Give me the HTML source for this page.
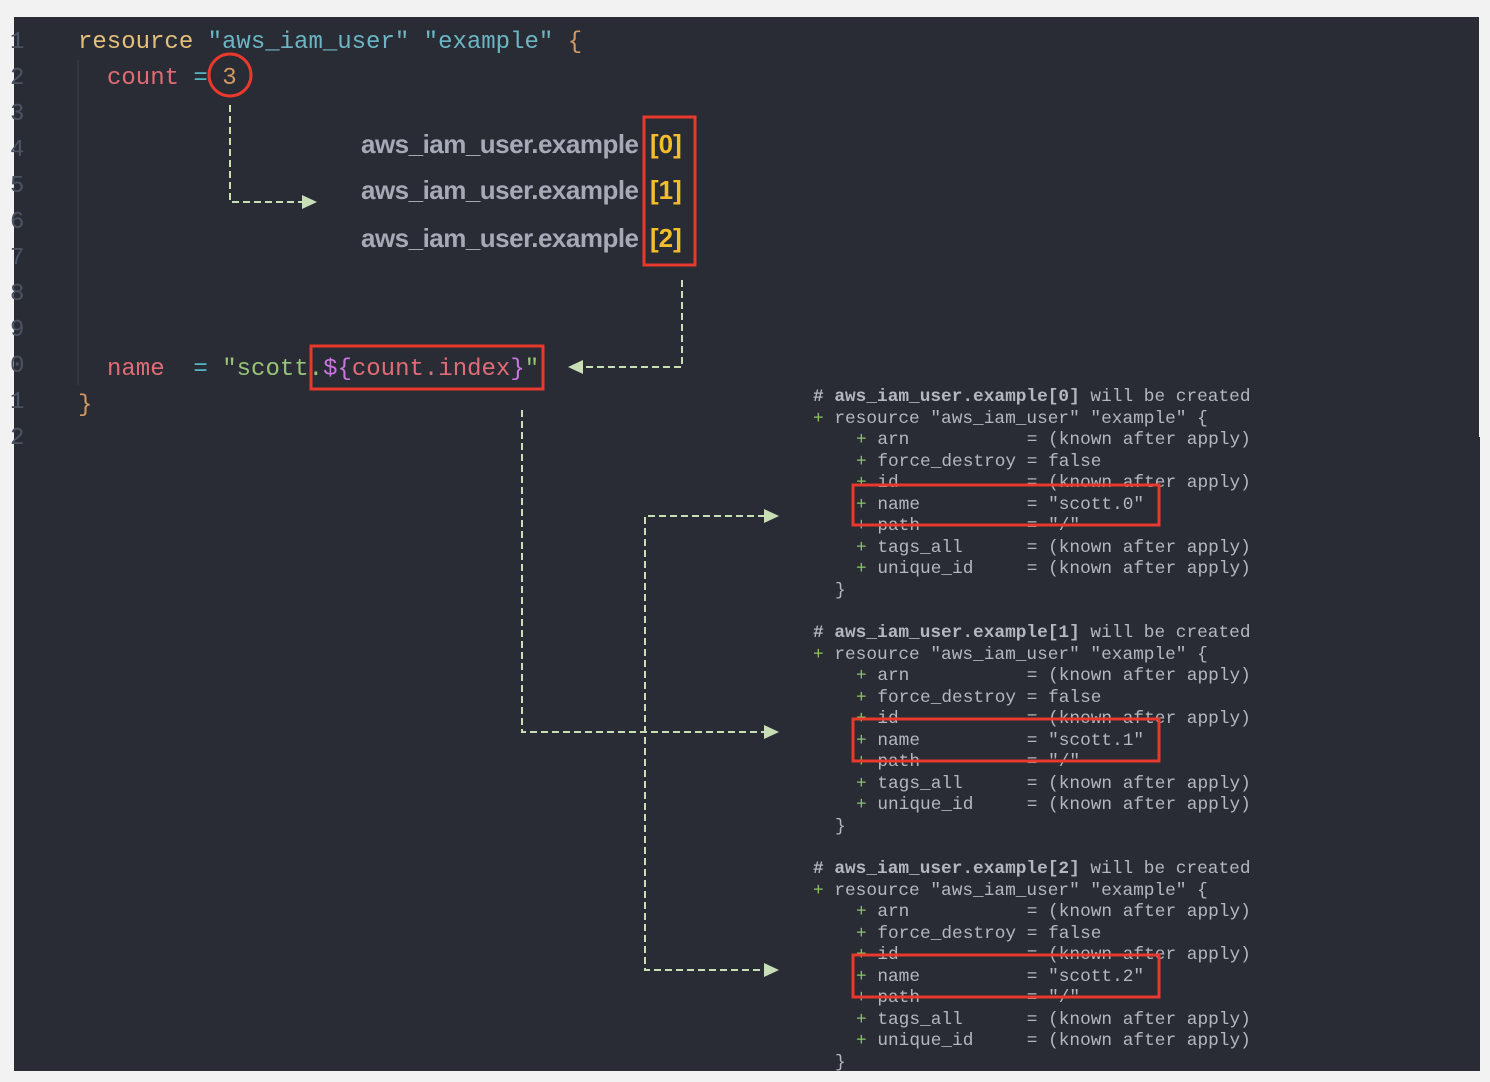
<!DOCTYPE html>
<html><head><meta charset="utf-8"><style>
html,body{margin:0;padding:0;background:#f2f2f2;width:1490px;height:1082px;overflow:hidden}
svg{display:block}
.c{font-family:"Liberation Mono",monospace;font-size:24px}
.t{font-family:"Liberation Mono",monospace;font-size:17.8px;fill:#b4b7bf}
.g{fill:#8cc265}
.l{font-family:"Liberation Sans",sans-serif;font-size:26px;fill:#a6a9b6;font-weight:bold}
.y{font-family:"Liberation Sans",sans-serif;font-size:26px;fill:#f3bd2e;font-weight:bold}
.d{fill:none;stroke:#c8deb4;stroke-width:2;stroke-dasharray:7,4}
.r{fill:none;stroke:#e8392c;stroke-width:3}
</style></head><body>
<svg width="1490" height="1082" xmlns="http://www.w3.org/2000/svg">
<rect x="0" y="0" width="1490" height="1082" fill="#f2f2f2"/>
<rect x="14" y="17" width="1465" height="1054" fill="#292c35"/>
<rect x="1400" y="437" width="80" height="634" fill="#292c35"/>
<g font-family="Liberation Mono,monospace" font-size="24" fill="#4b5263">
<text x="10" y="48">1</text><text x="10" y="84">2</text><text x="10" y="120">3</text><text x="10" y="156">4</text><text x="10" y="192">5</text><text x="10" y="228">6</text><text x="10" y="264">7</text><text x="10" y="300">8</text><text x="10" y="336">9</text><text x="10" y="372">0</text><text x="10" y="408">1</text><text x="10" y="444">2</text>
</g>
<line x1="78" y1="60" x2="78" y2="385" stroke="#3b3f4a" stroke-width="1"/>
<text class="c" x="78" y="48" xml:space="preserve"><tspan fill="#e5c07b">resource</tspan> <tspan fill="#6cb6c4">"aws_iam_user"</tspan> <tspan fill="#6cb6c4">"example"</tspan> <tspan fill="#d19a66">{</tspan></text>
<text class="c" x="107" y="84" xml:space="preserve"><tspan fill="#e06c75">count</tspan> <tspan fill="#56b6c2">=</tspan> <tspan fill="#d19a66">3</tspan></text>
<text class="c" x="107" y="375" xml:space="preserve"><tspan fill="#e06c75">name</tspan>  <tspan fill="#56b6c2">=</tspan> <tspan fill="#98c379">"scott.</tspan><tspan fill="#c678dd">${</tspan><tspan fill="#e06c75">count.index</tspan><tspan fill="#c678dd">}</tspan><tspan fill="#98c379">"</tspan></text>
<text class="c" x="78" y="411" fill="#d19a66">}</text>
<circle class="r" cx="230" cy="75" r="21"/>
<rect class="r" x="311" y="346" width="232" height="43"/>
<text class="l" x="361" y="153" textLength="278">aws_iam_user.example</text>
<text class="l" x="361" y="199" textLength="278">aws_iam_user.example</text>
<text class="l" x="361" y="247" textLength="278">aws_iam_user.example</text>
<text class="y" x="650" y="153">[0]</text>
<text class="y" x="650" y="199">[1]</text>
<text class="y" x="650" y="247">[2]</text>
<rect class="r" x="644" y="117" width="51" height="148"/>
<path class="d" d="M230 105 V202 H304"/>
<polygon points="317,202 302,195 302,209" fill="#c8deb4"/>
<path class="d" d="M682 280 V367 H582"/>
<polygon points="568,367 583,360 583,374" fill="#c8deb4"/>
<path class="d" d="M522 410 V732 H765"/>
<path class="d" d="M765 516 H645 V970 H765"/>
<polygon points="779,516 764,509 764,523" fill="#c8deb4"/>
<polygon points="779,732 764,725 764,739" fill="#c8deb4"/>
<polygon points="779,970 764,963 764,977" fill="#c8deb4"/>
<g id="b0">
<text class="t" x="813" y="401" xml:space="preserve"><tspan font-weight="bold"># aws_iam_user.example[0]</tspan> will be created</text>
<text class="t" x="813" y="423" xml:space="preserve"><tspan class="g">+</tspan> resource "aws_iam_user" "example" {</text>
<text class="t" x="856" y="444" xml:space="preserve"><tspan class="g">+</tspan> arn           = (known after apply)</text>
<text class="t" x="856" y="466" xml:space="preserve"><tspan class="g">+</tspan> force_destroy = false</text>
<text class="t" x="856" y="487" xml:space="preserve"><tspan class="g">+</tspan> id            = (known after apply)</text>
<text class="t" x="856" y="509" xml:space="preserve"><tspan class="g">+</tspan> name          = "scott.0"</text>
<text class="t" x="856" y="530" xml:space="preserve"><tspan class="g">+</tspan> path          = "/"</text>
<text class="t" x="856" y="552" xml:space="preserve"><tspan class="g">+</tspan> tags_all      = (known after apply)</text>
<text class="t" x="856" y="573" xml:space="preserve"><tspan class="g">+</tspan> unique_id     = (known after apply)</text>
<text class="t" x="835" y="595">}</text>
<rect x="853" y="485" width="306" height="40" fill="none" stroke="#e8392c" stroke-width="3"/>
</g>
<g transform="translate(0,236)">
<text class="t" x="813" y="401" xml:space="preserve"><tspan font-weight="bold"># aws_iam_user.example[1]</tspan> will be created</text>
<text class="t" x="813" y="423" xml:space="preserve"><tspan class="g">+</tspan> resource "aws_iam_user" "example" {</text>
<text class="t" x="856" y="444" xml:space="preserve"><tspan class="g">+</tspan> arn           = (known after apply)</text>
<text class="t" x="856" y="466" xml:space="preserve"><tspan class="g">+</tspan> force_destroy = false</text>
<text class="t" x="856" y="487" xml:space="preserve"><tspan class="g">+</tspan> id            = (known after apply)</text>
<text class="t" x="856" y="509" xml:space="preserve"><tspan class="g">+</tspan> name          = "scott.1"</text>
<text class="t" x="856" y="530" xml:space="preserve"><tspan class="g">+</tspan> path          = "/"</text>
<text class="t" x="856" y="552" xml:space="preserve"><tspan class="g">+</tspan> tags_all      = (known after apply)</text>
<text class="t" x="856" y="573" xml:space="preserve"><tspan class="g">+</tspan> unique_id     = (known after apply)</text>
<text class="t" x="835" y="595">}</text>
<rect x="853" y="483" width="306" height="42" fill="none" stroke="#e8392c" stroke-width="3"/>
</g>
<g transform="translate(0,472)">
<text class="t" x="813" y="401" xml:space="preserve"><tspan font-weight="bold"># aws_iam_user.example[2]</tspan> will be created</text>
<text class="t" x="813" y="423" xml:space="preserve"><tspan class="g">+</tspan> resource "aws_iam_user" "example" {</text>
<text class="t" x="856" y="444" xml:space="preserve"><tspan class="g">+</tspan> arn           = (known after apply)</text>
<text class="t" x="856" y="466" xml:space="preserve"><tspan class="g">+</tspan> force_destroy = false</text>
<text class="t" x="856" y="487" xml:space="preserve"><tspan class="g">+</tspan> id            = (known after apply)</text>
<text class="t" x="856" y="509" xml:space="preserve"><tspan class="g">+</tspan> name          = "scott.2"</text>
<text class="t" x="856" y="530" xml:space="preserve"><tspan class="g">+</tspan> path          = "/"</text>
<text class="t" x="856" y="552" xml:space="preserve"><tspan class="g">+</tspan> tags_all      = (known after apply)</text>
<text class="t" x="856" y="573" xml:space="preserve"><tspan class="g">+</tspan> unique_id     = (known after apply)</text>
<text class="t" x="835" y="595">}</text>
<rect x="853" y="483" width="306" height="42" fill="none" stroke="#e8392c" stroke-width="3"/>
</g>
</svg>
</body></html>
